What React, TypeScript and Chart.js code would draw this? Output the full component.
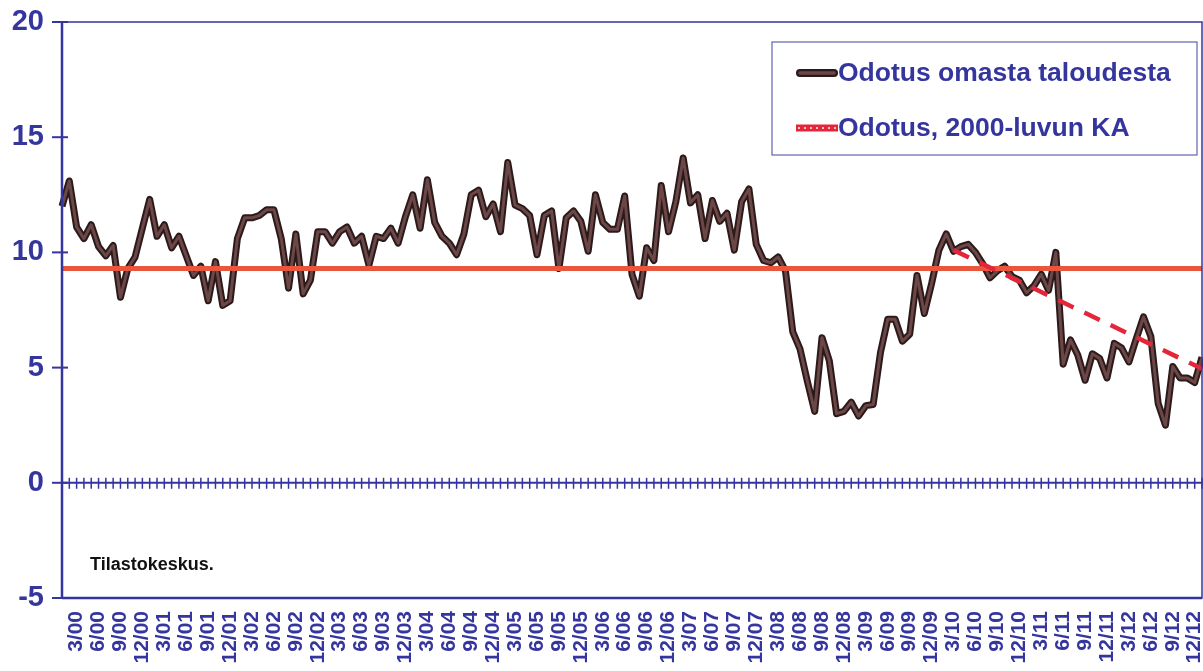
import { useEffect, useRef } from 'react';
import { Chart, registerables } from 'chart.js';

Chart.register(...registerables);

// ---- data ----
const YEARS = ['00', '01', '02', '03', '04', '05', '06', '07', '08', '09', '10', '11', '12', '13'];
const MONTHS = [1, 2, 3, 4, 5, 6, 7, 8, 9, 10, 11, 12];

const v2000 = [12.0, 13.1, 11.1, 10.6, 11.2, 10.25, 9.85, 10.3, 8.05, 9.3, 9.8, 11.05];
const v2001 = [12.3, 10.7, 11.2, 10.2, 10.7, 9.85, 9.0, 9.4, 7.9, 9.6, 7.7, 7.9];
const v2002 = [10.6, 11.5, 11.5, 11.6, 11.85, 11.85, 10.6, 8.45, 10.8, 8.2, 8.8, 10.9];
const v2003 = [10.9, 10.4, 10.9, 11.1, 10.4, 10.7, 9.45, 10.7, 10.6, 11.05, 10.4, 11.55];
const v2004 = [12.5, 11.05, 13.15, 11.3, 10.7, 10.4, 9.9, 10.8, 12.5, 12.7, 11.55, 12.1];
const v2005 = [10.9, 13.9, 12.05, 11.9, 11.6, 9.9, 11.6, 11.8, 9.3, 11.5, 11.8, 11.35];
const v2006 = [10.05, 12.5, 11.3, 11.0, 11.0, 12.45, 9.05, 8.1, 10.2, 9.65, 12.9, 10.9];
const v2007 = [12.2, 14.1, 12.15, 12.5, 10.6, 12.25, 11.35, 11.7, 10.1, 12.2, 12.75, 10.35];
const v2008 = [9.65, 9.55, 9.8, 9.2, 6.55, 5.8, 4.4, 3.1, 6.3, 5.3, 3.0, 3.1];
const v2009 = [3.5, 2.9, 3.35, 3.4, 5.65, 7.1, 7.1, 6.15, 6.45, 9.0, 7.35, 8.65];
const v2010 = [10.1, 10.8, 10.05, 10.25, 10.35, 10.0, 9.5, 8.9, 9.2, 9.4, 8.95, 8.8];
const v2011 = [8.25, 8.55, 9.05, 8.35, 10.0, 5.15, 6.2, 5.55, 4.45, 5.6, 5.4, 4.55];
const v2012 = [6.05, 5.85, 5.25, 6.25, 7.2, 6.35, 3.45, 2.5, 5.05, 4.55, 4.55, 4.35];
const v2013 = [5.45];

const SERIES = [
  ...v2000, ...v2001, ...v2002, ...v2003, ...v2004, ...v2005, ...v2006,
  ...v2007, ...v2008, ...v2009, ...v2010, ...v2011, ...v2012, ...v2013,
];

const LABELS = YEARS.flatMap((y) => MONTHS.map((m) => `${m}/${y}`)).slice(0, SERIES.length);

const MEAN_VALUE = 9.3;
const MEAN_POINTS = [
  { x: '1/00', y: MEAN_VALUE },
  { x: '1/13', y: MEAN_VALUE },
];
const TREND_POINTS = [
  { x: '3/10', y: 10.1 },
  { x: '1/13', y: 4.95 },
];

const Y_MIN = -5;
const Y_MAX = 20;
const Y_STEP = 5;

const SERIES_LABEL = 'Odotus omasta taloudesta';
const MEAN_LABEL = 'Odotus, 2000-luvun KA';
const NOTE = 'Tilastokeskus.';

// ---- styles ----
const FONT = '"Liberation Sans", Arial, Helvetica, sans-serif';
const AXIS_COLOR = '#3535a0';
const TEXT_COLOR = '#35359e';
const LINE_OUTER = '#2c1a1a';
const LINE_INNER = '#6b4747';
const MEAN_COLOR = '#e8573d';
const TREND_COLOR = '#e3263a';

const decorPlugin = {
  id: 'decor',
  afterDraw(chart: any) {
    const { ctx, chartArea: a, scales } = chart;
    const x = scales.x;
    const y = scales.y;
    const line = (x1: number, y1: number, x2: number, y2: number) => {
      ctx.beginPath();
      ctx.moveTo(x1, y1);
      ctx.lineTo(x2, y2);
      ctx.stroke();
    };
    ctx.save();
    ctx.strokeStyle = AXIS_COLOR;
    // frame
    ctx.lineWidth = 1.5;
    ctx.strokeRect(a.left, a.top, a.right - a.left, a.bottom - a.top);
    ctx.lineWidth = 2.5;
    line(a.left, a.top, a.left, a.bottom);
    line(a.left, a.bottom, a.right, a.bottom);
    // y ticks crossing the axis
    ctx.lineWidth = 2;
    for (const t of y.ticks) {
      const py = y.getPixelForValue(t.value);
      line(a.left - 10, py, a.left + 6, py);
    }
    // zero line with monthly tick marks
    const z = y.getPixelForValue(0);
    ctx.lineWidth = 2;
    line(a.left, z, a.right, z);
    ctx.lineWidth = 1.5;
    for (let i = 0; i < LABELS.length; i++) {
      const px = x.getPixelForValue(i);
      line(px, z - 5, px, z + 6);
    }
    // source note
    ctx.fillStyle = '#111111';
    ctx.font = `bold 18px ${FONT}`;
    ctx.textBaseline = 'middle';
    ctx.textAlign = 'left';
    ctx.fillText(NOTE, a.left + 28, a.bottom - 33);

    // legend box
    const bx = 772, by = 42, bw = 425, bh = 113;
    ctx.fillStyle = '#ffffff';
    ctx.fillRect(bx, by, bw, bh);
    ctx.strokeStyle = '#6262b2';
    ctx.lineWidth = 1.2;
    ctx.strokeRect(bx, by, bw, bh);

    const ds = chart.data.datasets;
    const rows = [
      { label: ds[1].label, y: by + 31, kind: 'main' },
      { label: ds[2].label, y: by + 86, kind: 'mean' },
    ];
    for (const r of rows) {
      if (r.kind === 'main') {
        ctx.lineCap = 'round';
        ctx.strokeStyle = LINE_OUTER;
        ctx.lineWidth = 8;
        line(bx + 28, r.y, bx + 62, r.y);
        ctx.strokeStyle = LINE_INNER;
        ctx.lineWidth = 3.5;
        line(bx + 28, r.y, bx + 62, r.y);
      } else {
        ctx.lineCap = 'butt';
        ctx.strokeStyle = TREND_COLOR;
        ctx.lineWidth = 7;
        line(bx + 24, r.y, bx + 66, r.y);
        ctx.strokeStyle = '#f6c6c6';
        ctx.lineWidth = 2;
        ctx.setLineDash([2, 4]);
        line(bx + 26, r.y, bx + 64, r.y);
        ctx.setLineDash([]);
      }
      ctx.fillStyle = TEXT_COLOR;
      ctx.font = `bold 26.5px ${FONT}`;
      ctx.textBaseline = 'middle';
      ctx.fillText(r.label, bx + 66, r.y + 1);
    }
    ctx.restore();
  },
};

export default function App() {
  const ref = useRef<HTMLCanvasElement | null>(null);

  useEffect(() => {
    if (!ref.current) return;
    const chart = new Chart(ref.current, {
      type: 'line',
      data: {
        labels: LABELS,
        datasets: [
          {
            label: '',
            data: SERIES,
            borderColor: LINE_INNER,
            borderWidth: 3,
            pointRadius: 0,
            tension: 0,
            borderJoinStyle: 'round',
            order: 2,
          },
          {
            label: SERIES_LABEL,
            data: SERIES,
            borderColor: LINE_OUTER,
            borderWidth: 7,
            pointRadius: 0,
            tension: 0,
            borderJoinStyle: 'round',
            order: 3,
          },
          {
            label: MEAN_LABEL,
            data: MEAN_POINTS as any,
            borderColor: MEAN_COLOR,
            borderWidth: 5,
            pointRadius: 0,
            order: 1,
          },
          {
            label: '',
            data: TREND_POINTS as any,
            borderColor: TREND_COLOR,
            borderWidth: 4.5,
            borderDash: [17, 12],
            pointRadius: 0,
            order: 0,
          },
        ],
      },
      options: {
        animation: false,
        responsive: false,
        events: [],
        layout: { padding: { top: 22, right: 1, left: 0, bottom: 0 } },
        plugins: {
          legend: { display: false },
          tooltip: { enabled: false },
        },
        scales: {
          x: {
            type: 'category',
            offset: false,
            grid: { display: false, drawTicks: false },
            border: { display: false },
            afterFit: (s: any) => {
              s.height = 73;
              s.paddingLeft = 0;
              s.paddingRight = 0;
              s.paddingTop = 0;
              s.paddingBottom = 0;
            },
            ticks: {
              autoSkip: false,
              minRotation: 90,
              maxRotation: 90,
              padding: 13,
              color: TEXT_COLOR,
              font: { family: FONT, size: 21, weight: 'bold' },
              callback: (_v: any, i: number) => {
                const lab = LABELS[i];
                const m = parseInt(lab.split('/')[0], 10);
                return m % 3 === 0 ? lab : '';
              },
            },
          },
          y: {
            min: Y_MIN,
            max: Y_MAX,
            grid: { display: false, drawTicks: false },
            border: { display: false },
            afterFit: (s: any) => {
              s.width = 62;
              s.paddingTop = 0;
              s.paddingBottom = 0;
              s.paddingLeft = 0;
              s.paddingRight = 0;
            },
            ticks: {
              stepSize: Y_STEP,
              padding: 18,
              color: TEXT_COLOR,
              font: { family: FONT, size: 29, weight: 'bold' },
            },
          },
        },
      },
      plugins: [decorPlugin],
    });
    return () => chart.destroy();
  }, []);

  return (
    <div style={{ position: 'fixed', left: 0, top: 0, width: 1203, height: 671, background: '#ffffff' }}>
      <canvas ref={ref} width={1203} height={671} style={{ display: 'block' }} />
    </div>
  );
}
